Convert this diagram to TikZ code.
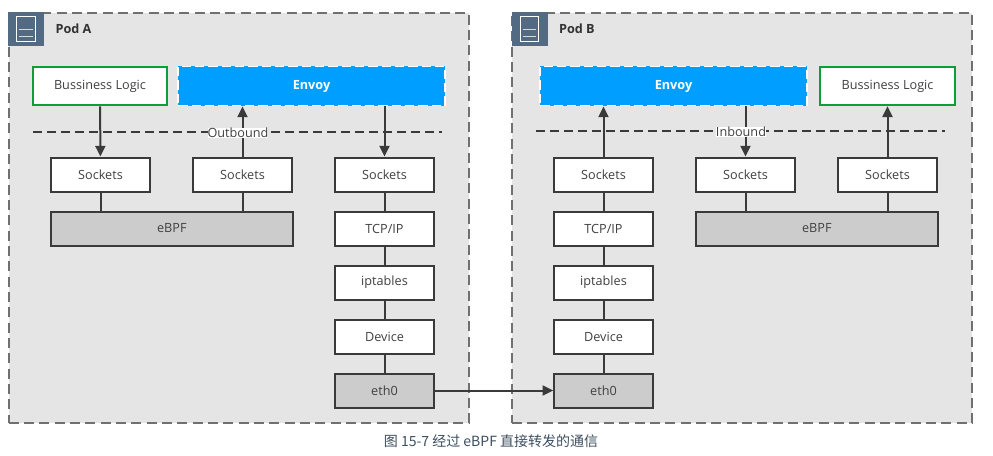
\documentclass[tikz,border=0pt]{standalone}
\usepackage{fontspec}
\setmainfont{Open Sans}
\newfontfamily\cjkfont{Noto Sans CJK SC}
\usetikzlibrary{positioning,arrows.meta}

\definecolor{podgray}{HTML}{E5E5E5}
\definecolor{poddash}{HTML}{707070}
\definecolor{podicon}{HTML}{536B82}
\definecolor{boxline}{HTML}{3A3A3A}
\definecolor{boxgray}{HTML}{CCCCCC}
\definecolor{logicgreen}{HTML}{0F9D3A}
\definecolor{envoyblue}{HTML}{009FFF}
\definecolor{captioncolor}{HTML}{3D4F60}

\tikzset{
    podbox/.style={draw=poddash, fill=podgray, line width=1.5pt, dash pattern=on 7.5pt off 4pt,
                   minimum width=345pt, minimum height=308pt, inner sep=0pt},
    podicon/.style={fill=podicon, minimum width=27pt, minimum height=26pt, inner sep=0pt},
    podlabel/.style={font=\fontsize{9.5}{11}\selectfont\bfseries, text=black!80},
    layerbox/.style={draw=boxline, fill=white, line width=1.5pt, minimum width=74pt, minimum height=25.5pt,
                     inner sep=0pt, font=\fontsize{9.5}{11}\selectfont, text=black!75},
    graybox/.style={layerbox, fill=boxgray},
    logicbox/.style={layerbox, draw=logicgreen, minimum width=101pt, minimum height=29pt},
    envoybox/.style={draw=white, fill=envoyblue, line width=1.2pt, dash pattern=on 7pt off 3pt,
                     minimum width=200pt, minimum height=29.5pt, inner sep=0pt,
                     text=white, font=\fontsize{9.5}{11}\selectfont\bfseries},
    flowline/.style={draw=boxline, line width=1.5pt},
    flowarrow/.style={flowline, -{Triangle[length=8pt,width=7.5pt]}},
    splitline/.style={draw=boxline, line width=1.5pt, dash pattern=on 6.5pt off 4pt},
    splitlabel/.style={fill=white, inner sep=0pt, font=\fontsize{9.5}{10}\selectfont, text=black!75},
}

\begin{document}
\begin{tikzpicture}[x=0.75pt, y=-0.75pt]
\useasboundingbox (0,0) rectangle (993,455);

% pods
\node [podbox] (podA) at (238.5,218) {};
\node [podbox] (podB) at (742,218) {};
\node [podicon] (iconA) at (26,29) {};
\node [podicon] (iconB) at (529.5,29) {};
\foreach \icon in {iconA,iconB} {
    \draw [white, line width=0.8pt] ([shift={(-7pt,-9.5pt)}]\icon.center) rectangle ([shift={(7pt,9.5pt)}]\icon.center);
    \draw [white!75!podicon, line width=0.8pt] ([shift={(-5pt,-5.5pt)}]\icon.center) -- ([shift={(5pt,-5.5pt)}]\icon.center);
    \draw [white!75!podicon, line width=0.8pt] ([shift={(-5pt,-0.5pt)}]\icon.center) -- ([shift={(5pt,-0.5pt)}]\icon.center);
}
\node [podlabel, right=5pt of iconA] (nameA) {Pod A};
\node [podlabel, right=5pt of iconB] (nameB) {Pod B};

% pod A
\node [logicbox] (logicA) at (100,86) {Bussiness Logic};
\node [envoybox] (envoyA) at (311.5,86) {Envoy};
\node [layerbox] (sockA) at (100.5,174.5) {Sockets};
\node [layerbox] (sockB) at (242.5,174.5) {Sockets};
\node [layerbox] (sockC) at (384.5,174.5) {Sockets};
\node [graybox, minimum width=181pt, below=13.5pt of sockA.south west, anchor=north west] (ebpfA) {eBPF};
\node [layerbox, below=13.5pt of sockC] (tcpA) {TCP/IP};
\node [layerbox, below=13.5pt of tcpA] (iptA) {iptables};
\node [layerbox, below=13.5pt of iptA] (devA) {Device};
\node [graybox, below=13.5pt of devA] (ethA) {eth0};

\coordinate (splitAl) at (33,132);
\coordinate (splitAr) at (442,132);
\draw [splitline] (splitAl) -- (splitAr);
\draw [flowarrow] (logicA) -- (sockA);
\draw [flowarrow] (sockB) -- (sockB |- envoyA.south);
\node [splitlabel] (outbound) at (238,133) {Outbound};
\draw [flowarrow] (sockC |- envoyA.south) -- (sockC);
\draw [flowline] (sockA) -- (sockA |- ebpfA.north);
\draw [flowline] (sockB) -- (sockB |- ebpfA.north);
\draw [flowline] (sockC) -- (tcpA);
\draw [flowline] (tcpA) -- (iptA);
\draw [flowline] (iptA) -- (devA);
\draw [flowline] (devA) -- (ethA);

% pod B
\node [envoybox] (envoyB) at (673.5,86) {Envoy};
\node [logicbox] (logicB) at (887.5,86) {Bussiness Logic};
\node [layerbox] (sockD) at (603.5,174.5) {Sockets};
\node [layerbox] (sockE) at (745.5,174.5) {Sockets};
\node [layerbox] (sockF) at (887.5,174.5) {Sockets};
\node [graybox, minimum width=181pt, below=13.5pt of sockE.south west, anchor=north west] (ebpfB) {eBPF};
\node [layerbox, below=13.5pt of sockD] (tcpB) {TCP/IP};
\node [layerbox, below=13.5pt of tcpB] (iptB) {iptables};
\node [layerbox, below=13.5pt of iptB] (devB) {Device};
\node [graybox, below=13.5pt of devB] (ethB) {eth0};

\coordinate (splitBl) at (536,131);
\coordinate (splitBr) at (945,131);
\draw [splitline] (splitBl) -- (splitBr);
\draw [flowarrow] (sockD) -- (sockD |- envoyB.south);
\draw [flowarrow] (sockE |- envoyB.south) -- (sockE);
\node [splitlabel] (inbound) at (741,132) {Inbound};
\draw [flowarrow] (sockF) -- (logicB);
\draw [flowline] (sockE) -- (sockE |- ebpfB.north);
\draw [flowline] (sockF) -- (sockF |- ebpfB.north);
\draw [flowline] (sockD) -- (tcpB);
\draw [flowline] (tcpB) -- (iptB);
\draw [flowline] (iptB) -- (devB);
\draw [flowline] (devB) -- (ethB);

\draw [flowarrow] (ethA) -- (ethB);

\node [font=\cjkfont\fontsize{10.5}{12}\selectfont, text=captioncolor] (caption) at (491,441) {图 15-7 经过 eBPF 直接转发的通信};

\end{tikzpicture}
\end{document}
